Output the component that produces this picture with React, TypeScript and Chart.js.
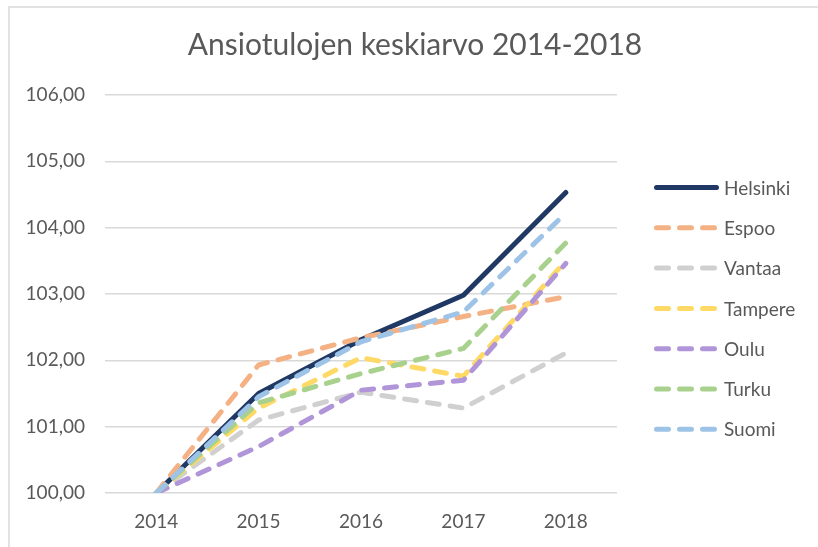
import { useEffect, useRef } from 'react';
import { Chart, registerables } from 'chart.js';

Chart.register(...registerables);

const titleText = 'Ansiotulojen keskiarvo 2014-2018';
const years = ['2014', '2015', '2016', '2017', '2018'];
const seriesNames = ['Helsinki', 'Espoo', 'Vantaa', 'Tampere', 'Oulu', 'Turku', 'Suomi'];

const helsinki = [100, 101.5, 102.31, 102.98, 104.53];
const espoo = [100, 101.93, 102.34, 102.66, 102.96];
const vantaa = [100, 101.1, 101.52, 101.28, 102.11];
const tampere = [100, 101.28, 102.04, 101.76, 103.5];
const oulu = [100, 100.7, 101.55, 101.7, 103.46];
const turku = [100, 101.36, 101.8, 102.18, 103.77];
const suomi = [100, 101.45, 102.28, 102.73, 104.22];

const seriesValues = [helsinki, espoo, vantaa, tampere, oulu, turku, suomi];
const seriesColors = ['#1F3864', '#F4B183', '#D0D0D0', '#FFD966', '#B095D9', '#A9D18E', '#9DC3E6'];

const yMin = 100;
const yMax = 106;
const yStep = 1;

const FONT = 'Lato, "Open Sans", sans-serif';
const TEXT = '#595959';
const GRID = '#D9D9D9';
const DASH = [12, 11];

const decor = {
  id: 'decor',
  beforeDraw(chart: any) {
    const { ctx, width, height } = chart;
    ctx.save();
    ctx.fillStyle = '#ffffff';
    ctx.fillRect(0, 0, width, height);
    ctx.strokeStyle = GRID;
    ctx.lineWidth = 1.5;
    ctx.beginPath();
    ctx.moveTo(9, height);
    ctx.lineTo(9, 7);
    ctx.lineTo(width, 7);
    ctx.stroke();
    ctx.restore();
  },
  afterDraw(chart: any) {
    const { ctx } = chart;
    ctx.save();
    ctx.fillStyle = TEXT;
    ctx.font = `30px ${FONT}`;
    ctx.textAlign = 'center';
    ctx.textBaseline = 'alphabetic';
    ctx.fillText(titleText, 415, 55);

    chart.data.datasets.forEach((ds: any, i: number) => {
      const y = 187.5 + i * 40.3;
      ctx.strokeStyle = ds.borderColor;
      ctx.lineWidth = ds.borderWidth;
      ctx.lineCap = 'round';
      ctx.setLineDash(ds.borderDash || []);
      ctx.beginPath();
      ctx.moveTo(656.5, y);
      ctx.lineTo(716.5, y);
      ctx.stroke();
      ctx.setLineDash([]);
      ctx.fillStyle = TEXT;
      ctx.font = `19px ${FONT}`;
      ctx.textAlign = 'left';
      ctx.textBaseline = 'middle';
      ctx.fillText(ds.label, 724, y + 1);
    });
    ctx.restore();
  },
};

export default function App() {
  const ref = useRef<HTMLCanvasElement>(null);
  useEffect(() => {
    const canvas = ref.current;
    if (!canvas) return;
    const datasets = seriesNames.map((name, i) => ({
      label: name,
      data: seriesValues[i],
      borderColor: seriesColors[i],
      backgroundColor: seriesColors[i],
      borderWidth: 5,
      borderDash: i === 0 ? [] : DASH,
      borderCapStyle: 'round' as const,
      borderJoinStyle: 'round' as const,
      pointRadius: 0,
      pointHoverRadius: 0,
      fill: false,
      tension: 0,
      order: seriesNames.length - i,
    }));
    const chart = new Chart(canvas, {
      type: 'line',
      data: { labels: years, datasets },
      options: {
        animation: false,
        responsive: false,
        layout: { padding: { top: 95, right: 201, left: 0, bottom: 0 } },
        plugins: {
          legend: { display: false },
          title: { display: false },
          tooltip: { enabled: false },
        },
        scales: {
          x: {
            offset: true,
            grid: { display: false, drawTicks: false },
            border: { display: false },
            ticks: { color: TEXT, font: { family: FONT, size: 19 }, padding: 17 },
            afterFit: (s: any) => {
              s.height = 54;
            },
          },
          y: {
            min: yMin,
            max: yMax,
            ticks: {
              stepSize: yStep,
              color: TEXT,
              font: { family: FONT, size: 19 },
              padding: 20,
              callback: (v: any) => Number(v).toFixed(2).replace('.', ','),
            },
            grid: { color: GRID, lineWidth: 1.5, drawTicks: false },
            border: { display: false },
            afterFit: (s: any) => {
              s.width = 105;
            },
          },
        },
      },
      plugins: [decor],
    });
    return () => chart.destroy();
  }, []);
  return (
    <div style={{ position: 'fixed', left: 0, top: 0, width: 818, height: 547, background: '#fff' }}>
      <canvas ref={ref} width={818} height={547} style={{ display: 'block' }} />
    </div>
  );
}
